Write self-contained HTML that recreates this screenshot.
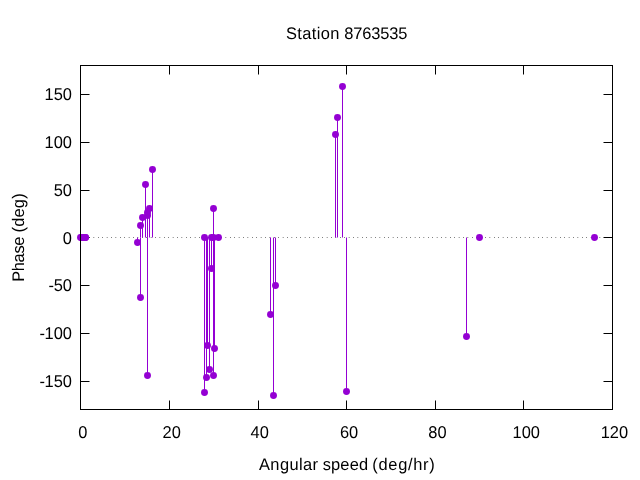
<!DOCTYPE html>
<html lang="en">
<head>
<meta charset="utf-8">
<title>Station 8763535</title>
<style>
html,body{margin:0;padding:0;background:#fff;}
body{width:640px;height:480px;overflow:hidden;}
svg{display:block;}
text{font-family:"Liberation Sans","DejaVu Sans",sans-serif;font-size:16.46px;fill:#000;text-rendering:geometricPrecision;}
</style>
</head>
<body>
<svg width="640" height="480" viewBox="0 0 640 480">
<rect x="0" y="0" width="640" height="480" fill="#ffffff"/>
<g stroke="#000" stroke-width="1" fill="none">
<line x1="80.5" y1="409.5" x2="80.5" y2="400.5"/>
<line x1="80.5" y1="65.5" x2="80.5" y2="74.5"/>
<line x1="169.5" y1="409.5" x2="169.5" y2="400.5"/>
<line x1="169.5" y1="65.5" x2="169.5" y2="74.5"/>
<line x1="258.5" y1="409.5" x2="258.5" y2="400.5"/>
<line x1="258.5" y1="65.5" x2="258.5" y2="74.5"/>
<line x1="346.5" y1="409.5" x2="346.5" y2="400.5"/>
<line x1="346.5" y1="65.5" x2="346.5" y2="74.5"/>
<line x1="435.5" y1="409.5" x2="435.5" y2="400.5"/>
<line x1="435.5" y1="65.5" x2="435.5" y2="74.5"/>
<line x1="523.5" y1="409.5" x2="523.5" y2="400.5"/>
<line x1="523.5" y1="65.5" x2="523.5" y2="74.5"/>
<line x1="612.5" y1="409.5" x2="612.5" y2="400.5"/>
<line x1="612.5" y1="65.5" x2="612.5" y2="74.5"/>
<line x1="80.5" y1="94.5" x2="89.5" y2="94.5"/>
<line x1="612.5" y1="94.5" x2="603.5" y2="94.5"/>
<line x1="80.5" y1="142.5" x2="89.5" y2="142.5"/>
<line x1="612.5" y1="142.5" x2="603.5" y2="142.5"/>
<line x1="80.5" y1="190.5" x2="89.5" y2="190.5"/>
<line x1="612.5" y1="190.5" x2="603.5" y2="190.5"/>
<line x1="80.5" y1="237.5" x2="89.5" y2="237.5"/>
<line x1="612.5" y1="237.5" x2="603.5" y2="237.5"/>
<line x1="80.5" y1="285.5" x2="89.5" y2="285.5"/>
<line x1="612.5" y1="285.5" x2="603.5" y2="285.5"/>
<line x1="80.5" y1="333.5" x2="89.5" y2="333.5"/>
<line x1="612.5" y1="333.5" x2="603.5" y2="333.5"/>
<line x1="80.5" y1="381.5" x2="89.5" y2="381.5"/>
<line x1="612.5" y1="381.5" x2="603.5" y2="381.5"/>
</g>
<line x1="80.5" y1="237.5" x2="612.5" y2="237.5" stroke="#000" stroke-width="1" stroke-dasharray="0.5 3.9" stroke-dashoffset="0.05"/>
<g stroke="#9400d3" stroke-width="1" fill="none">
<line x1="137.5" y1="237.5" x2="137.5" y2="242.5"/>
<line x1="140.5" y1="237.5" x2="140.5" y2="297.5"/>
<line x1="140.5" y1="237.5" x2="140.5" y2="225.5"/>
<line x1="142.5" y1="237.5" x2="142.5" y2="217.5"/>
<line x1="145.5" y1="237.5" x2="145.5" y2="184.5"/>
<line x1="147.5" y1="237.5" x2="147.5" y2="375.5"/>
<line x1="147.5" y1="237.5" x2="147.5" y2="212.5"/>
<line x1="147.5" y1="237.5" x2="147.5" y2="215.5"/>
<line x1="149.5" y1="237.5" x2="149.5" y2="208.5"/>
<line x1="152.5" y1="237.5" x2="152.5" y2="169.5"/>
<line x1="204.5" y1="237.5" x2="204.5" y2="392.5"/>
<line x1="206.5" y1="237.5" x2="206.5" y2="377.5"/>
<line x1="207.5" y1="237.5" x2="207.5" y2="345.5"/>
<line x1="209.5" y1="237.5" x2="209.5" y2="369.5"/>
<line x1="211.5" y1="237.5" x2="211.5" y2="268.5"/>
<line x1="213.5" y1="237.5" x2="213.5" y2="208.5"/>
<line x1="213.5" y1="237.5" x2="213.5" y2="375.5"/>
<line x1="214.5" y1="237.5" x2="214.5" y2="348.5"/>
<line x1="270.5" y1="237.5" x2="270.5" y2="314.5"/>
<line x1="273.5" y1="237.5" x2="273.5" y2="395.5"/>
<line x1="275.5" y1="237.5" x2="275.5" y2="285.5"/>
<line x1="335.5" y1="237.5" x2="335.5" y2="134.5"/>
<line x1="337.5" y1="237.5" x2="337.5" y2="117.5"/>
<line x1="342.5" y1="237.5" x2="342.5" y2="86.5"/>
<line x1="346.5" y1="237.5" x2="346.5" y2="391.5"/>
<line x1="466.5" y1="237.5" x2="466.5" y2="336.5"/>
</g>
<g fill="#9400d3" stroke="none">
<circle cx="80.5" cy="237.5" r="3.45"/>
<circle cx="81.5" cy="237.5" r="3.45"/>
<circle cx="83.5" cy="237.5" r="3.45"/>
<circle cx="85.5" cy="237.5" r="3.45"/>
<circle cx="85.5" cy="237.5" r="3.45"/>
<circle cx="137.5" cy="242.5" r="3.45"/>
<circle cx="140.5" cy="297.5" r="3.45"/>
<circle cx="140.5" cy="225.5" r="3.45"/>
<circle cx="142.5" cy="217.5" r="3.45"/>
<circle cx="145.5" cy="184.5" r="3.45"/>
<circle cx="147.5" cy="375.5" r="3.45"/>
<circle cx="147.5" cy="212.5" r="3.45"/>
<circle cx="147.5" cy="215.5" r="3.45"/>
<circle cx="149.5" cy="208.5" r="3.45"/>
<circle cx="152.5" cy="169.5" r="3.45"/>
<circle cx="204.5" cy="237.5" r="3.45"/>
<circle cx="204.5" cy="392.5" r="3.45"/>
<circle cx="206.5" cy="377.5" r="3.45"/>
<circle cx="207.5" cy="345.5" r="3.45"/>
<circle cx="209.5" cy="369.5" r="3.45"/>
<circle cx="211.5" cy="268.5" r="3.45"/>
<circle cx="211.5" cy="237.5" r="3.45"/>
<circle cx="213.5" cy="208.5" r="3.45"/>
<circle cx="213.5" cy="375.5" r="3.45"/>
<circle cx="214.5" cy="348.5" r="3.45"/>
<circle cx="213.5" cy="237.5" r="3.45"/>
<circle cx="218.5" cy="237.5" r="3.45"/>
<circle cx="270.5" cy="314.5" r="3.45"/>
<circle cx="273.5" cy="395.5" r="3.45"/>
<circle cx="275.5" cy="285.5" r="3.45"/>
<circle cx="335.5" cy="134.5" r="3.45"/>
<circle cx="337.5" cy="117.5" r="3.45"/>
<circle cx="342.5" cy="86.5" r="3.45"/>
<circle cx="346.5" cy="391.5" r="3.45"/>
<circle cx="466.5" cy="336.5" r="3.45"/>
<circle cx="479.5" cy="237.5" r="3.45"/>
<circle cx="594.5" cy="237.5" r="3.45"/>
</g>
<rect x="80.5" y="65.5" width="532" height="344" stroke="#000" stroke-width="1" fill="none"/>
<g>
<text transform="translate(44.55,100.40) scale(1,1.04)">150</text>
<text transform="translate(44.55,148.00) scale(1,1.04)">100</text>
<text transform="translate(53.70,196.00) scale(1,1.04)">50</text>
<text transform="translate(62.85,243.50) scale(1,1.04)">0</text>
<text transform="translate(48.22,291.00) scale(1,1.04)"><tspan dx="0.35">-</tspan><tspan dx="-0.35">50</tspan></text>
<text transform="translate(39.07,339.00) scale(1,1.04)"><tspan dx="0.35">-</tspan><tspan dx="-0.35">100</tspan></text>
<text transform="translate(39.07,387.00) scale(1,1.04)"><tspan dx="0.35">-</tspan><tspan dx="-0.35">150</tspan></text>
<text transform="translate(78.25,437.65) scale(1,1.04)">0</text>
<text transform="translate(162.50,437.65) scale(1,1.04)">20</text>
<text transform="translate(250.56,437.65) scale(1,1.04)">40</text>
<text transform="translate(339.90,437.65) scale(1,1.04)">60</text>
<text transform="translate(428.25,437.65) scale(1,1.04)">80</text>
<text transform="translate(512.55,437.65) scale(1,1.04)">100</text>
<text transform="translate(600.70,437.65) scale(1,1.04)">120</text>
<text transform="translate(0,39.45) scale(1,1.02)"><tspan x="285.90" textLength="53.60" lengthAdjust="spacing">Station</tspan> <tspan x="344.20" textLength="63.20" lengthAdjust="spacing">8763535</tspan></text>
<text transform="translate(0,470.05) scale(1,1.02)"><tspan x="259.00" textLength="59.10" lengthAdjust="spacing">Angular</tspan> <tspan x="322.70" textLength="45.40" lengthAdjust="spacing">speed</tspan> <tspan x="372.30" textLength="62.40" lengthAdjust="spacing">(deg/hr)</tspan></text>
<text transform="translate(24.10,0) rotate(-90) scale(1,1.02)"><tspan x="-281.80" textLength="45.20" lengthAdjust="spacing">Phase</tspan> <tspan x="-232.50" textLength="39.20" lengthAdjust="spacing">(deg)</tspan></text>
</g>
</svg>
</body>
</html>
